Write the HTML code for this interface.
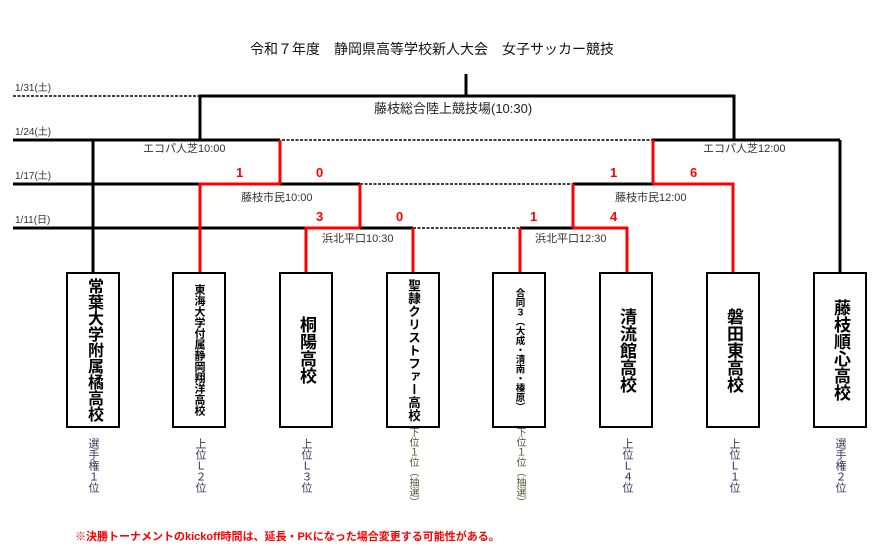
<!DOCTYPE html>
<html><head><meta charset="utf-8"><style>
body{margin:0;width:882px;height:556px;background:#fff;position:relative;overflow:hidden;font-family:"Liberation Sans","Noto Sans CJK JP",sans-serif;}
.t{position:absolute;white-space:nowrap;}
.d{font-size:10px;color:#333;left:15px;}
.s{color:#f00;font-weight:bold;font-size:13px;}
.v{font-size:11px;color:#333;}
.box{position:absolute;top:272px;width:50px;height:152px;border:2.5px solid #000;background:#fff;box-sizing:content-box;}
.bt{position:absolute;left:0;right:0;top:0;bottom:0;display:flex;justify-content:center;align-items:center;writing-mode:vertical-rl;text-orientation:upright;font-weight:bold;color:#000;}
.sub{position:absolute;top:438px;writing-mode:vertical-rl;text-orientation:upright;font-size:11px;color:#335;line-height:12px;}
</style></head><body>
<div class="t" style="left:250px;top:39px;font-size:14px;color:#111;">令和７年度　静岡県高等学校新人大会　女子サッカー競技</div>
<div class="t d" style="top:79px">1/31(土)</div>
<div class="t d" style="top:123px">1/24(土)</div>
<div class="t d" style="top:167px">1/17(土)</div>
<div class="t d" style="top:211px">1/11(日)</div>
<svg width="882" height="556" style="position:absolute;left:0;top:0">
<g stroke-width="3" fill="none">
<line x1="13" y1="96" x2="200" y2="96" stroke="#000" stroke-width="1.5" stroke-dasharray="3,1.5"/>
<line x1="13" y1="140" x2="280" y2="140" stroke="#000"/>
<line x1="282" y1="140" x2="652" y2="140" stroke="#000" stroke-width="1.5" stroke-dasharray="3,1.5"/>
<line x1="13" y1="184" x2="200" y2="184" stroke="#000"/>
<line x1="360" y1="184" x2="573" y2="184" stroke="#000" stroke-width="1.5" stroke-dasharray="3,1.5"/>
<line x1="13" y1="228" x2="306" y2="228" stroke="#000"/>
<line x1="413" y1="228" x2="520" y2="228" stroke="#000" stroke-width="1.5" stroke-dasharray="3,1.5"/>
<line x1="466" y1="74" x2="466" y2="96" stroke="#000"/>
<polyline points="200,140 200,96 734,96 734,140" stroke="#000"/>
<line x1="652" y1="140" x2="840" y2="140" stroke="#000"/>
<line x1="93" y1="140" x2="93" y2="272" stroke="#000"/>
<line x1="840" y1="140" x2="840" y2="272" stroke="#000"/>
<line x1="280" y1="184" x2="360" y2="184" stroke="#000"/>
<line x1="573" y1="184" x2="653" y2="184" stroke="#000"/>
<line x1="360" y1="228" x2="413" y2="228" stroke="#000"/>
<line x1="520" y1="228" x2="573" y2="228" stroke="#000"/>
<line x1="280" y1="140" x2="280" y2="184" stroke="#f00"/>
<line x1="653" y1="140" x2="653" y2="184" stroke="#f00"/>
<polyline points="280,184 200,184 200,272" stroke="#f00"/>
<polyline points="653,184 733,184 733,272" stroke="#f00"/>
<line x1="360" y1="184" x2="360" y2="228" stroke="#f00"/>
<line x1="573" y1="184" x2="573" y2="228" stroke="#f00"/>
<polyline points="360,228 306,228 306,272" stroke="#f00"/>
<line x1="413" y1="228" x2="413" y2="272" stroke="#f00"/>
<line x1="520" y1="228" x2="520" y2="272" stroke="#f00"/>
<polyline points="573,228 627,228 627,272" stroke="#f00"/>
</g></svg>
<div class="t" style="left:374px;top:98px;font-size:13px;color:#222;">藤枝総合陸上競技場(10:30)</div>
<div class="t v" style="left:143px;top:140px;">エコパ人芝10:00</div>
<div class="t v" style="left:703px;top:140px;">エコパ人芝12:00</div>
<div class="t s" style="left:236px;top:165px;">1</div>
<div class="t s" style="left:316px;top:165px;">0</div>
<div class="t v" style="left:241px;top:189px;">藤枝市民10:00</div>
<div class="t s" style="left:316px;top:209px;">3</div>
<div class="t s" style="left:396px;top:209px;">0</div>
<div class="t v" style="left:322px;top:230px;">浜北平口10:30</div>
<div class="t s" style="left:610px;top:165px;">1</div>
<div class="t s" style="left:690px;top:165px;">6</div>
<div class="t v" style="left:615px;top:189px;">藤枝市民12:00</div>
<div class="t s" style="left:530px;top:209px;">1</div>
<div class="t s" style="left:610px;top:209px;">4</div>
<div class="t v" style="left:535px;top:230px;">浜北平口12:30</div>

<div class="box" style="left:66px"><div class="bt" style="font-size:16px;line-height:18px">常葉大学附属橘高校</div></div>
<div class="box" style="left:172px"><div class="bt" style="font-size:11px;line-height:12px">東海大学付属静岡翔洋高校</div></div>
<div class="box" style="left:279px"><div class="bt" style="font-size:17px;line-height:18px">桐陽高校</div></div>
<div class="box" style="left:386px"><div class="bt" style="font-size:12.5px;line-height:14px;letter-spacing:0.5px">聖隷クリストファー高校</div></div>
<div class="box" style="left:492px"><div class="bt" style="font-size:9.5px;line-height:11px">合同３（大成・清南・榛原）</div></div>
<div class="box" style="left:599px"><div class="bt" style="font-size:17px;line-height:18px">清流館高校</div></div>
<div class="box" style="left:706px"><div class="bt" style="font-size:17px;line-height:18px">磐田東高校</div></div>
<div class="box" style="left:813px"><div class="bt" style="font-size:17px;line-height:18px">藤枝順心高校</div></div>

<div class="sub" style="left:87px">選手権１位</div>
<div class="sub" style="left:194px">上位Ｌ２位</div>
<div class="sub" style="left:300px">上位Ｌ３位</div>
<div class="sub" style="left:407px;top:427px;font-size:10px;line-height:11px;color:#553">下位１位（抽選）</div>
<div class="sub" style="left:514px;top:427px;font-size:10px;line-height:11px;color:#553">下位１位（抽選）</div>
<div class="sub" style="left:621px">上位Ｌ４位</div>
<div class="sub" style="left:728px">上位Ｌ１位</div>
<div class="sub" style="left:834px">選手権２位</div>

<div class="t" style="left:75px;top:528px;font-size:11px;font-weight:bold;color:#f00;">※決勝トーナメントのkickoff時間は、延長・PKになった場合変更する可能性がある。</div>
</body></html>
